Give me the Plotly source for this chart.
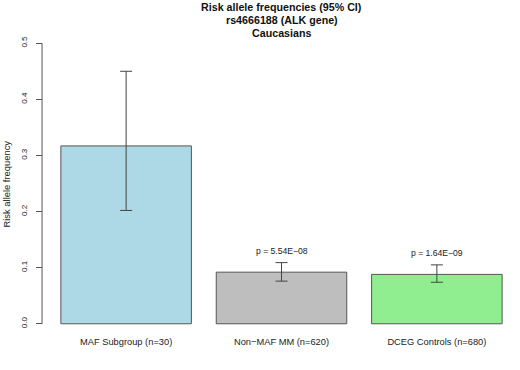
import plotly.graph_objects as go

categories = ["MAF Subgroup (n=30)", "Non\u2212MAF MM (n=620)", "DCEG Controls (n=680)"]
freqs = [0.317, 0.092, 0.088]
ci_low = [0.202, 0.076, 0.074]
ci_high = [0.450, 0.109, 0.105]
pvals = ["", "p = 5.54E\u221208", "p = 1.64E\u221209"]
colors = ["#ADD8E6", "#BEBEBE", "#90EE90"]
yticks = [0.0, 0.1, 0.2, 0.3, 0.4, 0.5]
title_lines = ["Risk allele frequencies (95% CI)", "rs4666188 (ALK gene)", "Caucasians"]

font = "Liberation Sans, Arial, sans-serif"

fig = go.Figure()
fig.add_trace(go.Bar(
    x=categories, y=freqs,
    marker=dict(color=colors, line=dict(color="#555555", width=1)),
    error_y=dict(type="data", symmetric=False,
                 array=[h - f for h, f in zip(ci_high, freqs)],
                 arrayminus=[f - l for f, l in zip(freqs, ci_low)],
                 color="#444444", thickness=1, width=6),
    showlegend=False,
    hoverinfo="skip",
))

for c, p, h in zip(categories, pvals, ci_high):
    if p:
        fig.add_annotation(x=c, y=h, text=p, showarrow=False, yanchor="bottom",
                           yshift=5, font=dict(size=8.6, color="#222222", family=font))

for i, line in enumerate(title_lines):
    fig.add_annotation(xref="paper", yref="paper", x=0.5, y=1, yanchor="middle",
                       yshift=(32 - 7) - 13 * i, text=f"<b>{line}</b>", showarrow=False,
                       font=dict(size=10.7, family=font, color="#111111"))

fig.add_annotation(xref="paper", yref="paper", x=-0.0755, y=0.5, text="Risk allele frequency",
                   textangle=-90, showarrow=False, xanchor="center", yanchor="middle",
                   font=dict(size=9.4, family=font, color="#222222"))

# R-style y axis line spanning 0 to 0.5
fig.add_shape(type="line", xref="paper", yref="y", x0=-0.002, x1=-0.002,
              y0=yticks[0], y1=yticks[-1], line=dict(color="#555555", width=1))

fig.update_layout(
    width=520, height=370,
    margin=dict(l=43, r=0, t=32, b=35),
    paper_bgcolor="white", plot_bgcolor="white",
    bargap=0.16,
    font=dict(family=font, color="#222222"),
    xaxis=dict(range=[-0.535, 2.535], showline=False, showgrid=False, ticks="",
               tickfont=dict(size=9.3), zeroline=False, automargin=False),
    yaxis=dict(range=[-0.02, 0.52], tickvals=yticks,
               ticktext=[f"{v:.1f}" for v in yticks],
               showline=False, showgrid=False, zeroline=False,
               ticks="outside", ticklen=6, tickcolor="#555555",
               tickangle=-90, tickfont=dict(size=8), ticklabelstandoff=6,
               automargin=False),
)

fig.write_html("out.html", config={"displayModeBar": False},
               post_script="document.body.style.margin='0';")
